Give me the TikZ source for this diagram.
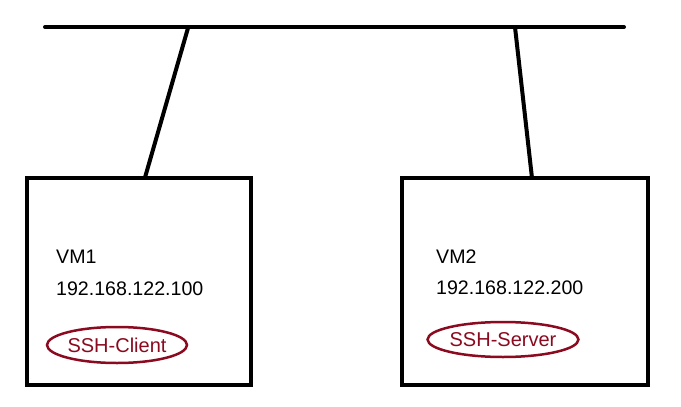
\documentclass[tikz,border=0pt]{standalone}
\usepackage{fontspec}
\setmainfont{Liberation Sans}
\usetikzlibrary{shapes.geometric}
\definecolor{ssh}{HTML}{8B0A1F}
\begin{document}
\begin{tikzpicture}[x=1pt,y=-1pt,
  vmbox/.style={draw=black,line width=4pt,minimum width=224pt,minimum height=207pt,inner sep=0pt},
  wire/.style={line width=4pt,line cap=round},
  label/.style={anchor=base west,inner sep=0pt,font=\fontsize{19.6}{22}\selectfont},
  sshnode/.style={ellipse,draw=ssh,line width=2.5pt,text=ssh,inner sep=0pt,font=\fontsize{20}{22}\selectfont}]
\useasboundingbox (0,0) rectangle (681,407);
\fill[white] (0,0) rectangle (681,407);
\coordinate (busL) at (45,27);
\coordinate (busR) at (624,27);
\draw[wire] (busL) -- (busR);
\node[vmbox] (vm1) at (138.5,281) {};
\node[vmbox,minimum width=246pt] (vm2) at (524.5,281.5) {};
\coordinate (t1) at (188,28);
\coordinate (t2) at (515,27);
\coordinate (b1) at (145,177.5);
\coordinate (b2) at (532,178);
\draw[wire,line cap=butt] (t1) -- (b1);
\draw[wire,line cap=butt] (t2) -- (b2);
\node[label] (n1) at (56,263) {VM1};
\node[label] (ip1) at (56,295) {192.168.122.100};
\node[label] (n2) at (436,263) {VM2};
\node[label] (ip2) at (436,294) {192.168.122.200};
\node[sshnode,minimum width=140pt,minimum height=36pt] (c1) at (117,345) {SSH-Client};
\node[sshnode,minimum width=150pt,minimum height=35pt] (c2) at (503,339.5) {SSH-Server};
\end{tikzpicture}
\end{document}
